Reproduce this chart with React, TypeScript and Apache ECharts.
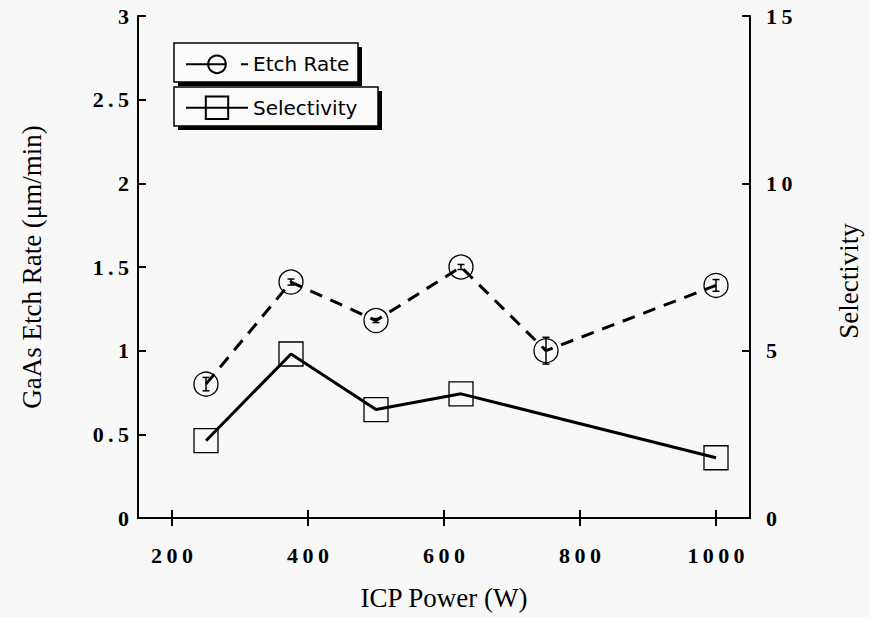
import React, { useEffect, useRef } from "react";
import * as echarts from "echarts";

const icpPower = [250, 375, 500, 625, 750, 1000];
const etchRate = [0.8, 1.41, 1.18, 1.5, 1.0, 1.39];
const etchErr = [0.04, 0.018, 0.012, 0.015, 0.08, 0.035];
const selPower = [250, 375, 500, 625, 1000];
const selectivity = [2.31, 4.9, 3.24, 3.71, 1.8];
const xTicks = [200, 400, 600, 800, 1000];

const serif = "'Liberation Serif', 'Times New Roman', serif";
const sans = "'DejaVu Sans', 'Liberation Sans', sans-serif";
const BG = "#f8f8f8";
const spaced = (v: number) => String(v).split("").join("\u2009");

export default function App() {
  const ref = useRef<HTMLDivElement>(null);
  useEffect(() => {
    if (!ref.current) return;
    const chart = echarts.init(ref.current, null, { renderer: "svg" });
    const labelStyle = { fontFamily: serif, fontWeight: "bold" as const, fontSize: 22, color: "#000" };
    const axisLine = { show: true, lineStyle: { color: "#000", width: 2 } };
    const tickStyle = { color: "#000", width: 2 };
    const nameStyle = { fontFamily: serif, fontSize: 27, color: "#000" };

    const option: any = {
      animation: false,
      backgroundColor: BG,
      grid: { left: 138, right: 113, top: 16, bottom: 99 },
      xAxis: [
        {
          type: "value", min: 150, max: 1050, position: "bottom",
          name: "ICP Power (W)", nameLocation: "middle", nameGap: 66, nameTextStyle: nameStyle,
          axisLine,
          axisTick: { show: true, inside: true, length: 8, lineStyle: tickStyle, customValues: xTicks },
          axisLabel: { ...labelStyle, margin: 26, customValues: xTicks, formatter: spaced },
          splitLine: { show: false },
        },
        {
          type: "value", min: 150, max: 1050, position: "top",
          axisLine,
          axisTick: { show: true, inside: true, length: 8, lineStyle: tickStyle, customValues: xTicks },
          axisLabel: { show: false },
          splitLine: { show: false },
        },
      ],
      yAxis: [
        {
          type: "value", min: 0, max: 3, interval: 0.5, position: "left",
          name: "GaAs Etch Rate (μm/min)", nameLocation: "middle", nameGap: 93, nameRotate: 90,
          nameTextStyle: nameStyle,
          axisLine,
          axisTick: { show: true, inside: true, length: 8, lineStyle: tickStyle },
          axisLabel: { ...labelStyle, margin: 9, formatter: spaced },
          splitLine: { show: false },
        },
        {
          type: "value", min: 0, max: 15, interval: 5, position: "right",
          name: "Selectivity", nameLocation: "middle", nameGap: 85, nameRotate: 90,
          nameTextStyle: { ...nameStyle, padding: [0, 28, 0, 0] },
          axisLine,
          axisTick: { show: true, inside: true, length: 8, lineStyle: tickStyle },
          axisLabel: { ...labelStyle, margin: 16, formatter: spaced },
          splitLine: { show: false },
        },
      ],
      graphic: [
        { type: "rect", z: 1, shape: { x: 178, y: 47, width: 184, height: 39 }, style: { fill: "#000" } },
        { type: "rect", z: 2, shape: { x: 174, y: 43, width: 184, height: 39 }, style: { fill: "#fbfbfb", stroke: "#000", lineWidth: 1.5 } },
        { type: "rect", z: 1, shape: { x: 178, y: 91, width: 204, height: 39 }, style: { fill: "#000" } },
        { type: "rect", z: 2, shape: { x: 174, y: 87, width: 204, height: 39 }, style: { fill: "#fbfbfb", stroke: "#000", lineWidth: 1.5 } },
      ],
      legend: [
        {
          data: ["Etch Rate"], left: 185, top: 53, padding: 0, itemWidth: 62, itemHeight: 22,
          selectedMode: false, z: 10,
          textStyle: { fontFamily: sans, fontSize: 20, color: "#000" },
          lineStyle: { width: 2, type: [40, 15], color: "#000" },
        },
        {
          data: ["Selectivity"], left: 185, top: 94, padding: 0, itemWidth: 62, itemHeight: 28,
          selectedMode: false, z: 10,
          textStyle: { fontFamily: sans, fontSize: 20, color: "#000" },
          lineStyle: { width: 2, type: "solid", color: "#000" },
        },
      ],
      series: [
        {
          name: "Etch Rate", type: "line", xAxisIndex: 0, yAxisIndex: 0,
          data: icpPower.map((x, i) => [x, etchRate[i]]),
          symbol: "circle", symbolSize: 24,
          lineStyle: { color: "#000", width: 3, type: [13, 9] },
          itemStyle: { color: "none", borderColor: "#000", borderWidth: 1.3 },
          z: 3,
        },
        {
          name: "Selectivity", type: "line", xAxisIndex: 0, yAxisIndex: 1,
          data: selPower.map((x, i) => [x, selectivity[i]]),
          symbol: "rect", symbolSize: 24,
          lineStyle: { color: "#000", width: 3, type: "solid" },
          itemStyle: { color: "none", borderColor: "#000", borderWidth: 1.3 },
          z: 3,
        },
        {
          type: "custom", xAxisIndex: 0, yAxisIndex: 0, z: 4,
          data: icpPower.map((x, i) => [x, etchRate[i] - etchErr[i], etchRate[i] + etchErr[i]]),
          encode: { x: 0, y: [1, 2] },
          renderItem: (params: any, api: any) => {
            const x = api.value(0);
            const lo = api.coord([x, api.value(1)]);
            const hi = api.coord([x, api.value(2)]);
            const cap = 3.5;
            const st = { stroke: "#000", lineWidth: 1.5 };
            return {
              type: "group",
              children: [
                { type: "line", shape: { x1: lo[0], y1: lo[1], x2: hi[0], y2: hi[1] }, style: st },
                { type: "line", shape: { x1: lo[0] - cap, y1: lo[1], x2: lo[0] + cap, y2: lo[1] }, style: st },
                { type: "line", shape: { x1: hi[0] - cap, y1: hi[1], x2: hi[0] + cap, y2: hi[1] }, style: st },
              ],
            };
          },
        },
      ],
    };
    chart.setOption(option);
    return () => chart.dispose();
  }, []);
  return (
    <div
      ref={ref}
      style={{ position: "fixed", left: 0, top: 0, width: 870, height: 617, background: BG }}
    />
  );
}
